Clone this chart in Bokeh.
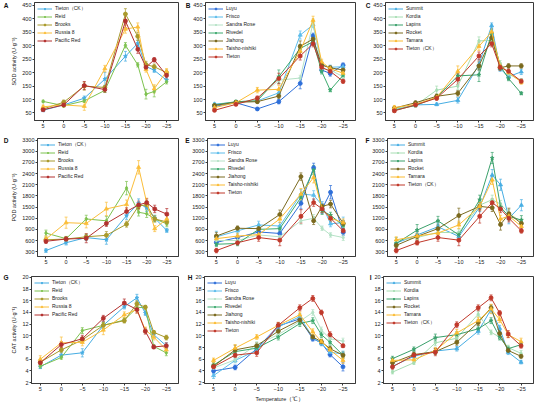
from bokeh.plotting import figure
from bokeh.models import (Range1d, FixedTicker, Legend, LegendItem, Whisker,
                          ColumnDataSource, TeeHead, LinearAxis)
from bokeh.layouts import column, row
from bokeh.embed import file_html
from bokeh.resources import INLINE

# ---------------- data ----------------
temps = [5, 0, -5, -10, -15, -18, -20, -22, -25]
x_ticks = [5, 0, -5, -10, -15, -20, -25]
sod_ticks = [50, 100, 150, 200, 250, 300, 350, 400, 450]
pod_ticks = [300, 600, 900, 1200, 1500, 1800, 2100, 2400, 2700, 3000, 3300]
cat_ticks = [2, 4, 6, 8, 10, 12, 14, 16, 18, 20]

names_1 = ["Tieton（CK）", "Reid", "Brooks", "Russia 8", "Pacific Red"]
names_2 = ["Luyu", "Frisco", "Sandra Rose", "Rivedel", "Jiahong", "Taisho-nishiki", "Tieton"]
names_3 = ["Summit", "Kordia", "Lapins", "Rocket", "Tamara", "Tieton（CK）"]

colors_1 = ["#46ADE3", "#7DC24F", "#A99A2C", "#FBBE3A", "#B3312F"]
colors_2 = ["#2E6FD9", "#5CBDEB", "#B5E2C6", "#3DAA6E", "#7B6A1F", "#FBBB32", "#C0392B"]
colors_3 = ["#46ADE3", "#A6DDB2", "#3AA06B", "#7B6A1F", "#FBBB32", "#C0392B"]

markers_1 = ["star", "diamond", "circle_cross", "triangle", "circle_x"]
markers_2 = ["circle", "triangle", "diamond", "star", "circle_cross", "triangle", "circle_x"]
markers_3 = ["triangle", "diamond", "star", "circle_cross", "triangle", "circle_x"]

# SOD activity
sod_A = [[60, 80, 105, 176, 261, 309, 223, 209, 172],
         [93, 77, 95, 134, 302, 229, 120, 130, 166],
         [65, 90, 150, 145, 418, 335, 230, 222, 200],
         [73, 80, 75, 215, 362, 370, 212, 140, 205],
         [62, 80, 152, 137, 392, 287, 220, 248, 190]]
sod_A_err = [[5, 5, 8, 25, 18, 12, 10, 8, 8],
             [4, 5, 6, 8, 10, 8, 18, 20, 8],
             [6, 8, 15, 8, 20, 15, 12, 10, 10],
             [6, 8, 15, 12, 15, 15, 10, 15, 10],
             [6, 6, 15, 10, 25, 15, 10, 8, 10]]
sod_B = [[75, 88, 65, 92, 160, 337, 210, 197, 228],
         [83, 90, 95, 125, 340, 378, 230, 220, 222],
         [78, 90, 100, 172, 180, 385, 215, 210, 185],
         [80, 92, 95, 185, 290, 315, 205, 135, 190],
         [78, 90, 92, 113, 298, 325, 228, 218, 210],
         [70, 88, 135, 138, 280, 395, 240, 215, 198],
         [60, 82, 105, 178, 262, 308, 220, 205, 168]]
sod_B_err = [[5, 5, 5, 8, 20, 10, 10, 10, 8],
             [5, 5, 6, 10, 15, 10, 10, 8, 8],
             [5, 5, 6, 10, 10, 15, 10, 8, 8],
             [5, 5, 6, 25, 15, 10, 10, 6, 8],
             [5, 5, 6, 10, 20, 10, 10, 8, 8],
             [5, 5, 10, 15, 15, 15, 10, 8, 8],
             [5, 5, 8, 20, 15, 12, 10, 8, 8]]
sod_C = [[63, 80, 82, 97, 230, 375, 215, 185, 203],
         [65, 78, 135, 150, 318, 320, 235, 195, 170],
         [60, 78, 108, 188, 192, 345, 225, 178, 123],
         [68, 88, 112, 123, 225, 330, 218, 225, 225],
         [70, 82, 108, 205, 298, 352, 225, 200, 165],
         [58, 80, 105, 175, 262, 308, 220, 205, 168]]
sod_C_err = [[5, 5, 5, 10, 20, 10, 10, 10, 10],
             [5, 5, 15, 12, 15, 15, 10, 8, 8],
             [5, 5, 8, 10, 25, 15, 10, 8, 5],
             [5, 6, 8, 10, 15, 12, 10, 8, 8],
             [8, 6, 8, 20, 15, 12, 10, 8, 8],
             [5, 5, 8, 20, 15, 12, 10, 8, 8]]

# POD activity
pod_D = [[330, 540, 680, 620, 1270, 1600, 1480, 1200, 870],
         [800, 650, 1180, 1130, 2010, 1360, 1320, 1180, 1050],
         [620, 640, 700, 740, 1040, 1530, 1560, 1180, 1100],
         [640, 1080, 1060, 1450, 1570, 2570, 1620, 920, 1180],
         [580, 640, 660, 1060, 1380, 1560, 1620, 1450, 1310]]
pod_D_err = [[50, 60, 80, 120, 100, 120, 100, 80, 50],
             [80, 60, 100, 120, 180, 100, 100, 80, 80],
             [60, 60, 80, 100, 80, 100, 100, 80, 80],
             [80, 150, 120, 180, 120, 180, 120, 80, 100],
             [60, 60, 120, 80, 100, 100, 100, 100, 150]]
pod_E = [[550, 680, 830, 790, 1600, 2560, 1450, 1900, 820],
         [700, 860, 1020, 990, 1850, 1820, 1550, 1050, 1080],
         [600, 600, 750, 700, 1130, 1200, 930, 750, 680],
         [500, 520, 900, 920, 1760, 2500, 1400, 1280, 1000],
         [720, 930, 920, 1300, 2320, 1130, 1520, 1580, 1060],
         [650, 720, 760, 1180, 1850, 2300, 1450, 1200, 1080],
         [330, 540, 680, 610, 1250, 1620, 1450, 1200, 860]]
pod_E_err = [[80, 60, 80, 100, 150, 120, 120, 180, 80],
             [150, 80, 100, 100, 120, 120, 100, 80, 150],
             [100, 60, 80, 80, 100, 100, 60, 60, 80],
             [60, 60, 80, 80, 100, 120, 100, 80, 80],
             [100, 60, 80, 120, 100, 100, 80, 100, 80],
             [100, 80, 100, 100, 150, 150, 100, 80, 100],
             [60, 60, 100, 150, 180, 100, 100, 100, 60]]
pod_F = [[530, 750, 970, 710, 1500, 2360, 2100, 1200, 1550],
         [600, 680, 820, 810, 1550, 1700, 1580, 1330, 1100],
         [520, 880, 1130, 750, 1700, 2820, 1500, 1250, 1150],
         [470, 710, 920, 1270, 1520, 1480, 1030, 1320, 1060],
         [620, 720, 800, 1020, 1520, 2230, 1180, 1260, 980],
         [330, 540, 680, 610, 1250, 1620, 1450, 1200, 860]]
pod_F_err = [[150, 100, 100, 100, 120, 150, 150, 150, 150],
             [80, 80, 100, 100, 100, 120, 100, 100, 100],
             [80, 150, 120, 80, 120, 150, 100, 100, 120],
             [60, 80, 100, 200, 100, 100, 150, 150, 100],
             [80, 80, 100, 100, 100, 120, 100, 100, 100],
             [60, 60, 100, 150, 180, 100, 100, 100, 60]]

# CAT activity
cat_G = [[4.7, 6.7, 7.1, 11.8, 15.0, 16.5, 13.9, 10.2, 8.3],
         [4.8, 6.3, 10.9, 11.8, 12.7, 14.8, 14.9, 8.2, 7.1],
         [5.5, 7.6, 9.3, 11.8, 12.6, 15.5, 14.9, 10.6, 9.7],
         [6.0, 8.8, 8.9, 11.0, 13.6, 14.5, 11.0, 9.8, 7.6],
         [5.4, 8.5, 9.5, 13.0, 15.6, 14.5, 10.8, 8.1, 8.3]]
cat_G_err = [[0.3, 0.4, 0.7, 0.6, 0.4, 0.6, 0.4, 0.5, 0.5],
             [0.3, 0.3, 0.5, 0.5, 0.4, 0.5, 0.3, 0.3, 0.5],
             [0.4, 0.5, 0.5, 0.5, 0.4, 0.5, 0.3, 0.3, 0.4],
             [0.6, 1.0, 0.6, 0.8, 0.5, 0.6, 0.5, 0.5, 0.5],
             [0.5, 0.5, 0.6, 0.5, 0.7, 0.6, 0.5, 0.3, 0.5]]
cat_H = [[4.0, 4.6, 7.8, 11.7, 12.9, 9.5, 8.8, 6.8, 4.7],
         [3.2, 5.8, 7.5, 11.5, 13.3, 9.7, 8.7, 7.2, 6.9],
         [4.5, 5.9, 8.5, 10.2, 12.5, 14.0, 11.0, 9.5, 9.1],
         [5.0, 7.3, 7.9, 9.8, 12.1, 12.6, 10.2, 8.9, 6.7],
         [4.8, 7.6, 8.3, 10.8, 12.7, 9.8, 9.0, 7.8, 6.7],
         [5.8, 7.9, 9.8, 11.8, 13.6, 10.7, 9.0, 7.6, 5.8],
         [4.7, 6.7, 7.1, 11.8, 14.8, 16.4, 14.0, 10.2, 8.3]]
cat_H_err = [[0.5, 0.4, 0.5, 0.5, 0.5, 0.4, 0.4, 0.4, 0.7],
             [0.5, 0.4, 0.5, 0.5, 0.5, 0.4, 0.4, 0.4, 0.5],
             [0.4, 0.4, 0.5, 0.5, 0.5, 0.5, 0.5, 0.5, 0.5],
             [0.4, 0.4, 0.5, 0.5, 0.5, 0.5, 0.5, 0.5, 0.5],
             [0.4, 0.8, 0.5, 0.5, 0.5, 0.4, 0.4, 0.4, 0.5],
             [0.4, 0.6, 0.4, 0.5, 0.5, 0.5, 0.4, 0.4, 0.5],
             [0.3, 0.4, 0.6, 0.5, 0.5, 0.5, 0.4, 0.5, 0.3]]
cat_I = [[4.8, 6.5, 7.4, 7.8, 10.8, 14.5, 11.3, 7.2, 5.5],
         [3.8, 5.4, 8.8, 9.6, 13.7, 10.6, 9.8, 8.0, 7.0],
         [6.1, 7.7, 9.7, 10.2, 11.2, 12.6, 9.8, 7.8, 8.5],
         [5.4, 6.8, 7.3, 8.9, 12.3, 14.8, 10.4, 7.5, 6.5],
         [5.8, 5.9, 7.5, 10.5, 12.6, 14.6, 12.8, 10.2, 9.0],
         [4.7, 6.7, 7.2, 11.9, 14.8, 16.5, 13.9, 10.3, 8.3]]
cat_I_err = [[0.4, 0.4, 0.5, 0.4, 0.5, 0.6, 0.5, 0.4, 0.3],
             [0.3, 0.3, 0.5, 0.5, 0.5, 0.4, 0.4, 0.4, 0.5],
             [0.4, 0.4, 0.6, 0.5, 0.5, 0.5, 0.5, 0.4, 0.4],
             [0.4, 0.4, 0.5, 0.5, 0.5, 0.5, 0.5, 0.4, 0.3],
             [0.4, 0.5, 0.5, 0.6, 0.6, 0.8, 0.5, 0.5, 0.6],
             [0.4, 0.4, 0.6, 0.5, 0.5, 0.5, 0.4, 0.6, 0.4]]

sod_label = "SOD activity (U·g⁻¹)"
pod_label = "POD activity (U·g⁻¹)"
cat_label = "CAT activity (U·g⁻¹)"
x_label = "Temperature（℃）"

FONT = "Liberation Sans"
FRAME = "#3a3a3a"


def make_panel(letter, names, colors, markers, values, errors, yr, yticks,
               w, h, bl, br, bt, bb, ylabel=None, xlabel=None):
    p = figure(width=w, height=h, output_backend="svg", toolbar_location=None,
               x_range=Range1d(7.1, -27.9), y_range=Range1d(*yr),
               min_border_left=bl, min_border_right=br,
               min_border_top=bt, min_border_bottom=bb)
    p.outline_line_color = FRAME
    p.outline_line_width = 1
    p.xgrid.visible = False
    p.ygrid.visible = False
    p.background_fill_color = "white"
    p.border_fill_color = "white"
    p.xaxis.ticker = FixedTicker(ticks=x_ticks)
    p.yaxis.ticker = FixedTicker(ticks=yticks)
    for ax in (p.xaxis[0], p.yaxis[0]):
        ax.major_label_text_font_size = "5.5px"
        ax.major_label_text_font = FONT
        ax.major_label_text_color = "#222222"
        ax.axis_line_color = FRAME
        ax.major_tick_line_color = FRAME
        ax.major_tick_out = 2
        ax.major_tick_in = 0
        ax.minor_tick_out = 0
        ax.minor_tick_in = 0
        ax.major_label_standoff = 1
        ax.axis_label_text_font_size = "5.5px"
        ax.axis_label_text_font = FONT
        ax.axis_label_text_font_style = "normal"
        ax.axis_label_text_color = "#222222"
        ax.axis_label_standoff = 2
    if ylabel:
        p.yaxis.axis_label = ylabel
    if xlabel:
        p.xaxis.axis_label = xlabel

    # panel letter: an extra left axis with one labelled tick at the top value
    top = yticks[-1]
    letter_axis = LinearAxis(ticker=FixedTicker(ticks=[top]),
                             major_label_overrides={top: letter},
                             axis_line_alpha=0, major_tick_out=0, major_tick_in=0,
                             minor_tick_out=0, minor_tick_in=0,
                             major_label_standoff=0,
                             major_label_text_font=FONT,
                             major_label_text_font_size="6.5px",
                             major_label_text_font_style="bold",
                             major_label_text_color="#111111")
    p.add_layout(letter_axis, "left")

    items = []
    for name, c, m, vals, errs in zip(names, colors, markers, values, errors):
        src = ColumnDataSource(dict(
            x=temps, y=vals,
            upper=[v + e for v, e in zip(vals, errs)],
            lower=[v - e for v, e in zip(vals, errs)]))
        wk = Whisker(source=src, base="x", upper="upper", lower="lower",
                     dimension="height", line_color=c, line_width=0.7,
                     upper_head=TeeHead(size=3, line_color=c, line_width=0.7),
                     lower_head=TeeHead(size=3, line_color=c, line_width=0.7))
        p.add_layout(wk)
        lr = p.line("x", "y", source=src, line_color=c, line_width=1)
        sr = p.scatter("x", "y", source=src, marker=m, size=4,
                       line_color=c, fill_color=c, line_width=0.8)
        items.append(LegendItem(label=name, renderers=[lr, sr]))

    leg = Legend(items=items, location="top_left")
    leg.background_fill_alpha = 0
    leg.border_line_alpha = 0
    leg.label_text_font_size = "5px"
    leg.label_text_font = FONT
    leg.label_text_color = "#222222"
    leg.glyph_width = 15
    leg.glyph_height = 5
    leg.label_height = 5
    leg.spacing = 2
    leg.padding = 0
    leg.margin = 3
    leg.label_standoff = 3
    p.add_layout(leg)
    return p


sod_range = (22, 461)
pod_range = (170, 3345)
cat_range = (1.85, 20.15)

# columns: widths / borders
W1, BL1, BR1 = 182, 29, 4
W2, BL2, BR2 = 180, 22, 7
W3, BL3, BR3 = 172, 21, 1

pA = make_panel("A", names_1, colors_1, markers_1, sod_A, sod_A_err, sod_range, sod_ticks,
                W1, 135, BL1, BR1, 2, 15, ylabel=sod_label)
pB = make_panel("B", names_2, colors_2, markers_2, sod_B, sod_B_err, sod_range, sod_ticks,
                W2, 135, BL2, BR2, 2, 15)
pC = make_panel("C", names_3, colors_3, markers_3, sod_C, sod_C_err, sod_range, sod_ticks,
                W3, 135, BL3, BR3, 2, 15)

pD = make_panel("D", names_1, colors_1, markers_1, pod_D, pod_D_err, pod_range, pod_ticks,
                W1, 136, BL1, BR1, 3, 15, ylabel=pod_label)
pE = make_panel("E", names_2, colors_2, markers_2, pod_E, pod_E_err, pod_range, pod_ticks,
                W2, 136, BL2, BR2, 3, 15)
pF = make_panel("F", names_3, colors_3, markers_3, pod_F, pod_F_err, pod_range, pod_ticks,
                W3, 136, BL3, BR3, 3, 15)

pG = make_panel("G", names_1, colors_1, markers_1, cat_G, cat_G_err, cat_range, cat_ticks,
                W1, 133, BL1, BR1, 3, 12, ylabel=cat_label)
pH = make_panel("H", names_2, colors_2, markers_2, cat_H, cat_H_err, cat_range, cat_ticks,
                W2, 133, BL2, BR2, 5, 16, xlabel=x_label)
pI = make_panel("I", names_3, colors_3, markers_3, cat_I, cat_I_err, cat_range, cat_ticks,
                W3, 133, BL3, BR3, 3, 12)

layout = column(row(pA, pB, pC, spacing=0),
                row(pD, pE, pF, spacing=0),
                row(pG, pH, pI, spacing=0), spacing=0)

open("out.html", "w").write(file_html(layout, INLINE))
